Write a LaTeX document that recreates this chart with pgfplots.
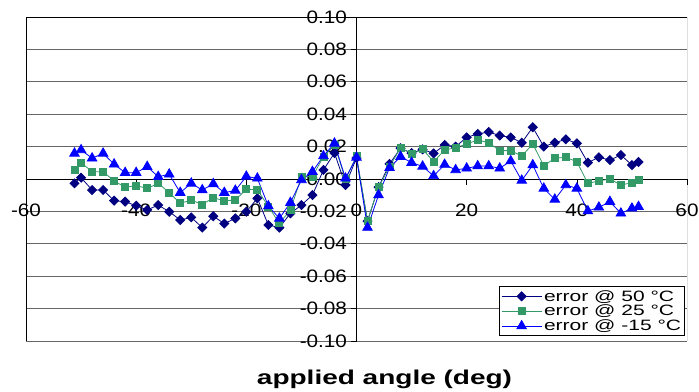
\documentclass[border=0pt]{standalone}
\usepackage{fontspec}
\setmainfont[FakeStretch=1.15]{Liberation Sans}
\newfontfamily\xlfont[FakeStretch=1.4]{Liberation Sans}
\newfontfamily\lgfont[FakeStretch=1.4]{Liberation Sans}
\usepackage{pgfplots}
\usepackage{pgfplotstable}
\pgfplotsset{compat=1.18}
\definecolor{cA}{RGB}{0,0,128}
\definecolor{cB}{RGB}{51,153,102}
\definecolor{cC}{RGB}{0,0,255}

\pgfplotstableread{
x y
-51.2 -0.0027
-50 0.0008
-48 -0.0068
-46 -0.0068
-44 -0.0134
-42 -0.0140
-40 -0.0165
-38 -0.0191
-36 -0.0161
-34 -0.0202
-32 -0.0253
-30 -0.0237
-28 -0.0300
-26 -0.0230
-24 -0.0275
-22 -0.0243
-20 -0.0202
-18 -0.0119
-16 -0.0284
-14 -0.0300
-12 -0.0212
-10 -0.0161
-8 -0.0099
-6 0.0056
-4 0.0160
-2 -0.0037
0 0.0130
2 -0.0260
4 -0.0050
6 0.0093
8 0.0190
10 0.0160
12 0.0183
14 0.0158
16 0.0210
18 0.0200
20 0.0257
22 0.0278
24 0.0290
26 0.0268
28 0.0257
30 0.0224
32 0.0319
34 0.0200
36 0.0224
38 0.0245
40 0.0220
42 0.0101
44 0.0134
46 0.0117
48 0.0148
50 0.0086
51.2 0.0105
}\tabA

\pgfplotstableread{
x y
-51.2 0.0056
-50 0.0101
-48 0.0045
-46 0.0045
-44 -0.0012
-42 -0.0051
-40 -0.0041
-38 -0.0058
-36 -0.0027
-34 -0.0084
-32 -0.0150
-30 -0.0130
-28 -0.0158
-26 -0.0115
-24 -0.0135
-22 -0.0130
-20 -0.0063
-18 -0.0066
-16 -0.0170
-14 -0.0274
-12 -0.0191
-10 0.0014
-8 0.0015
-6 0.0138
-4 0.0210
-2 -0.0002
0 0.0142
2 -0.0257
4 -0.0051
6 0.0076
8 0.0193
10 0.0154
12 0.0183
14 0.0107
16 0.0179
18 0.0193
20 0.0216
22 0.0241
24 0.0224
26 0.0175
28 0.0175
30 0.0142
32 0.0216
34 0.0082
36 0.0128
38 0.0134
40 0.0107
42 -0.0027
44 -0.0012
46 0.0000
48 -0.0037
50 -0.0023
51.2 -0.0006
}\tabB

\pgfplotstableread{
x y
-51.2 0.0158
-50 0.0179
-48 0.0128
-46 0.0158
-44 0.0091
-42 0.0039
-40 0.0039
-38 0.0076
-36 0.0014
-34 0.0029
-32 -0.0084
-30 -0.0027
-28 -0.0068
-26 -0.0030
-24 -0.0084
-22 -0.0071
-20 0.0016
-18 0.0004
-16 -0.0167
-14 -0.0243
-12 -0.0146
-10 -0.0006
-8 0.0045
-6 0.0142
-4 0.0220
-2 0.0004
0 0.0133
2 -0.0300
4 -0.0099
6 0.0069
8 0.0138
10 0.0101
12 0.0078
14 0.0019
16 0.0089
18 0.0056
20 0.0066
22 0.0080
24 0.0080
26 0.0066
28 0.0111
30 -0.0009
32 0.0086
34 -0.0058
36 -0.0126
38 -0.0037
40 -0.0058
42 -0.0198
44 -0.0175
46 -0.0140
48 -0.0212
50 -0.0181
51.2 -0.0171
}\tabC

\begin{document}
\begin{tikzpicture}
\begin{axis}[
  name=ax,
  scale only axis, width=661pt, height=324pt,
  xmin=-60, xmax=60, ymin=-0.1, ymax=0.1,
  axis lines=middle,
  axis line style={-, black, line width=0.8pt},
  hide obscured x ticks=false, hide obscured y ticks=false,
  xtick={-60,-40,-20,0,20,40,60},
  xticklabels={-60,-40,-20,0,20,40,60},
  ytick={-0.1,-0.08,-0.06,-0.04,-0.02,0,0.02,0.04,0.06,0.08,0.1},
  yticklabels={-0.10,-0.08,-0.06,-0.04,-0.02,0.00,0.02,0.04,0.06,0.08,0.10},
  tick align=outside, major tick length=6pt,
  tick style={black, line width=0.6pt},
  ymajorgrids, grid style={black!60, line width=0.7pt},
  xticklabel style={font=\fontsize{18}{18}\selectfont, yshift=-15pt},
  yticklabel style={font=\fontsize{18}{18}\selectfont},
  xlabel={\textbf{applied angle (deg)}},
  xlabel style={font=\xlfont\fontsize{20}{20}\selectfont, at={(axis description cs:0.5,0)}, anchor=north, yshift=-25pt, xshift=28pt},
  legend cell align=left,
  legend style={at={(rel axis cs:0.997,0.015)}, anchor=south east,
    font=\lgfont\fontsize{15}{15}\selectfont, draw=black, line width=0.8pt,
    inner sep=1.5pt, row sep=-1.5pt, fill=white},
  legend image code/.code={\draw[mark repeat=2,mark phase=2] plot coordinates {(0pt,0pt) (20pt,0pt) (40pt,0pt)};},
]
\addplot[cA, line width=0.8pt, mark=square*, mark size=3.2pt, mark options={rotate=45, solid, fill=cA}] table {\tabA};
\addlegendentry{error @ 50 °C}
\addplot[cB, line width=0.8pt, mark=square*, mark size=3.5pt, mark options={solid, fill=cB}] table {\tabB};
\addlegendentry{error @ 25 °C}
\addplot[cC, line width=0.8pt, mark=triangle*, mark size=5.5pt, mark options={solid, fill=cC}] table {\tabC};
\addlegendentry{error @ -15 °C}
\draw[black, line width=0.8pt] (rel axis cs:0,0) rectangle (rel axis cs:1,1);
\end{axis}
\pgfresetboundingbox
\path[use as bounding box] ([xshift=-26pt,yshift=-51pt]ax.south west) rectangle ([xshift=12pt,yshift=17pt]ax.north east);
\end{tikzpicture}
\end{document}
